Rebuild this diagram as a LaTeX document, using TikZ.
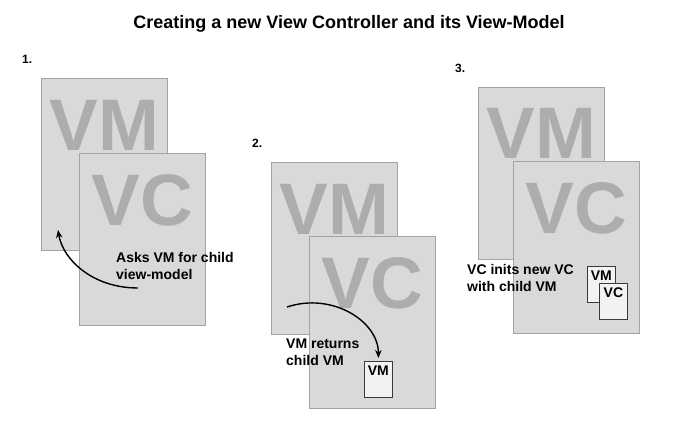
\documentclass[tikz,border=0pt]{standalone}
\usepackage{fontspec}
\setmainfont{Liberation Sans}
\usetikzlibrary{arrows.meta}
\definecolor{pagefill}{HTML}{D9D9D9}
\definecolor{pageline}{HTML}{A3A3A3}
\definecolor{bigletter}{HTML}{ADADAD}
\definecolor{subfill}{HTML}{F2F2F2}
\definecolor{subline}{HTML}{3A3A3A}

\begin{document}
\begin{tikzpicture}[x=1pt, y=-1pt,
    page/.style={draw=pageline, line width=0.8pt, fill=pagefill, minimum width=126pt,
                 minimum height=172pt, anchor=north west, inner sep=0pt},
    bigtext/.style={text=bigletter, font=\fontsize{73}{73}\selectfont\bfseries, anchor=base, inner sep=0pt},
    subpage/.style={draw=subline, line width=0.8pt, fill=subfill, minimum width=28pt,
                    minimum height=36pt, anchor=north west, inner sep=0pt},
    subtext/.style={font=\fontsize{14}{14}\selectfont\bfseries, anchor=base, inner sep=0pt},
    caption/.style={font=\fontsize{14}{17}\selectfont\bfseries, align=left, anchor=north west, inner sep=0pt},
    stepnum/.style={font=\fontsize{12}{12}\selectfont\bfseries, anchor=base west, inner sep=0pt},
    flow/.style={line width=1.4pt, -{Stealth[length=8pt, width=6.5pt]}}]

    \useasboundingbox (0,0) rectangle (696,433);

    \node[font=\fontsize{18}{18}\selectfont\bfseries, anchor=base] (title) at (349,29)
        {Creating a new View Controller and its View-Model};

    % step 1
    \node[stepnum] (num1) at (22,64) {1.};
    \node[page] (vmA) at (41,78) {};
    \node[bigtext] (vmAtext) at ([yshift=-72pt]vmA.north) {VM};
    \node[page] (vcA) at (79,153) {};
    \node[bigtext] (vcAtext) at ([yshift=-72pt]vcA.north) {VC};
    \node[caption] (askA) at (116,252) {Asks VM for child\\view-model};
    \coordinate (askfrom) at (138,288);
    \coordinate (askto) at (58,230);
    \draw[flow] (askfrom) .. controls +(-45,0) and +(5,30) .. (askto);

    % step 2
    \node[stepnum] (num2) at (252,148) {2.};
    \node[page] (vmB) at (271,162) {};
    \node[bigtext] (vmBtext) at ([yshift=-72pt]vmB.north) {VM};
    \node[page] (vcB) at (309,236) {};
    \node[bigtext] (vcBtext) at ([yshift=-72pt]vcB.north) {VC};
    \node[subpage] (subB) at (364,361) {};
    \node[subtext] at ([yshift=-14pt]subB.north) {VM};
    \node[caption] (retB) at (286,339) {VM returns\\child VM};
    \coordinate (retfrom) at (287,307);
    \draw[flow, shorten >=3pt] (retfrom) .. controls +(45,-15) and +(0,-40) .. (subB.north);

    % step 3
    \node[stepnum] (num3) at (455,73) {3.};
    \node[page] (vmC) at (478,87) {};
    \node[bigtext] (vmCtext) at ([yshift=-72pt]vmC.north) {VM};
    \node[page] (vcC) at (513,161) {};
    \node[bigtext] (vcCtext) at ([yshift=-72pt]vcC.north) {VC};
    \node[subpage] (subCvm) at (587,266) {};
    \node[subtext] at ([yshift=-14pt]subCvm.north) {VM};
    \node[subpage] (subCvc) at (599,283) {};
    \node[subtext] at ([yshift=-14pt]subCvc.north) {VC};
    \node[caption] (initC) at (467,264) {VC inits new VC\\with child VM};

\end{tikzpicture}
\end{document}
